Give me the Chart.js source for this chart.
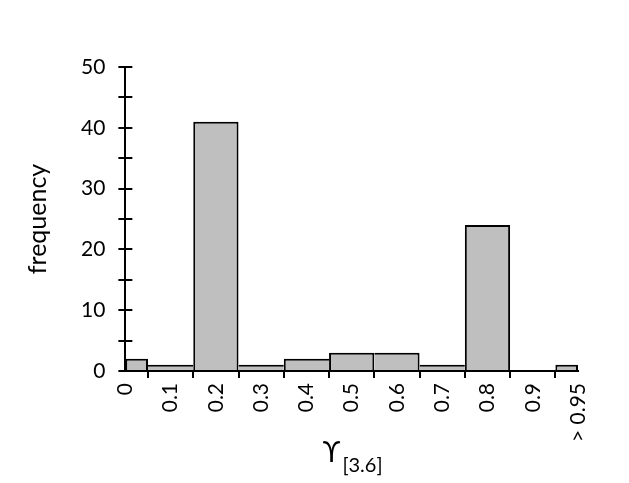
<!DOCTYPE html>
<html lang="en">

<head>
    <meta charset="UTF-8">
    <title>Histogram</title>
    <script src="https://cdn.jsdelivr.net/npm/chart.js"></script>
    <style>
        body {
            margin: 0;
            background: #fff;
        }

        #wrap {
            width: 629px;
            height: 483px;
        }
    </style>
</head>

<body>
    <div id="wrap">
        <canvas id="histChart"></canvas>
    </div>

    <script>
        // bin centres and counts (first and last bins are half width)
        const binCenters = [0.025, 0.1, 0.2, 0.3, 0.4, 0.5, 0.6, 0.7, 0.8, 0.9, 0.975];
        const counts = [2, 1, 41, 1, 2, 3, 3, 1, 24, 0, 1];
        const halfBins = [0, 10];
        const tickLabels = ['0', '0.1', '0.2', '0.3', '0.4', '0.5', '0.6', '0.7', '0.8', '0.9', '> 0.95'];

        const FONT = 'Lato, "Open Sans", sans-serif';

        const points = binCenters.map((x, i) => ({ x: x, y: counts[i], i: i }));

        // only the taller bar draws the shared edge, so edges stay one line thick
        function edges(ctx) {
            const i = ctx.raw.i;
            const h = counts[i];
            const prev = i > 0 ? counts[i - 1] : -1;
            const next = i < counts.length - 1 ? counts[i + 1] : -1;
            return { top: 2, left: prev < h ? 2 : 0, right: next <= h ? 2 : 0, bottom: 0 };
        }

        // y tick marks cross the axis line
        const innerTicks = {
            id: 'innerTicks',
            afterDraw(chart) {
                const ctx = chart.ctx;
                const ys = chart.scales.y;
                ctx.save();
                ctx.strokeStyle = '#000';
                ctx.lineWidth = 2;
                ctx.beginPath();
                ys.ticks.forEach((t, i) => {
                    const y = Math.round(ys.getPixelForTick(i));
                    ctx.moveTo(ys.right, y);
                    ctx.lineTo(ys.right + 7, y);
                });
                ctx.stroke();
                ctx.restore();
            }
        };

        const xTitle = {
            id: 'xTitle',
            afterDraw(chart) {
                const ctx = chart.ctx;
                const xs = chart.scales.x;
                ctx.save();
                ctx.fillStyle = '#000';
                ctx.textBaseline = 'alphabetic';
                ctx.font = '28px ' + FONT;
                const w1 = ctx.measureText('ϒ').width;
                ctx.font = '20px ' + FONT;
                const w2 = ctx.measureText('[3.6]').width;
                const x = (xs.left + xs.right) / 2 - (w1 + w2) / 2;
                const y = xs.bottom + 15;
                ctx.font = '28px ' + FONT;
                ctx.fillText('ϒ', x, y);
                ctx.font = '20px ' + FONT;
                ctx.fillText('[3.6]', x + w1 + 2, y + 10);
                ctx.restore();
            }
        };

        const barStyle = {
            backgroundColor: '#bfbfbf',
            borderColor: '#000',
            borderWidth: edges,
            inflateAmount: 0,
            grouped: false,
            categoryPercentage: 1
        };

        new Chart(document.getElementById('histChart'), {
            type: 'bar',
            data: {
                datasets: [Object.assign({
                    label: 'bins',
                    data: points.filter(p => !halfBins.includes(p.i)),
                    xAxisID: 'x',
                    barPercentage: 1
                }, barStyle), Object.assign({
                    label: 'end bins',
                    data: points.filter(p => halfBins.includes(p.i)),
                    xAxisID: 'x2',
                    barPercentage: 0.5   // half-width bins
                }, barStyle)]
            },
            options: {
                responsive: true,
                maintainAspectRatio: false,
                animation: false,
                layout: {
                    padding: { top: 67, right: 51, bottom: 36, left: 23 }
                },
                plugins: {
                    legend: { display: false },
                    tooltip: { enabled: false }
                },
                scales: {
                    x: {
                        type: 'linear',
                        offset: false,
                        min: 0,
                        max: 1,
                        ticks: {
                            stepSize: 0.1,
                            minRotation: 90,
                            maxRotation: 90,
                            padding: 5,
                            color: '#000',
                            font: { family: FONT, size: 21 },
                            callback: (v, i) => tickLabels[i]
                        },
                        grid: {
                            drawOnChartArea: false,
                            color: '#000',
                            lineWidth: 2,
                            tickLength: 7
                        },
                        border: { color: '#000', width: 2 }
                    },
                    x2: {
                        type: 'linear',
                        offset: false,
                        min: 0,
                        max: 1,
                        display: false,
                        ticks: { stepSize: 0.1 }
                    },
                    y: {
                        min: 0,
                        max: 50,
                        ticks: {
                            stepSize: 5,
                            padding: 13,
                            color: '#000',
                            font: { family: FONT, size: 21 },
                            callback: v => (v % 10 === 0 ? v : '')
                        },
                        grid: {
                            drawOnChartArea: false,
                            color: '#000',
                            lineWidth: 2,
                            tickLength: 7
                        },
                        border: { color: '#000', width: 2 },
                        title: {
                            display: true,
                            text: 'frequency',
                            color: '#000',
                            font: { family: FONT, size: 25 },
                            padding: { top: 0, bottom: 15 }
                        }
                    }
                }
            },
            plugins: [innerTicks, xTitle]
        });
    </script>
</body>

</html>
